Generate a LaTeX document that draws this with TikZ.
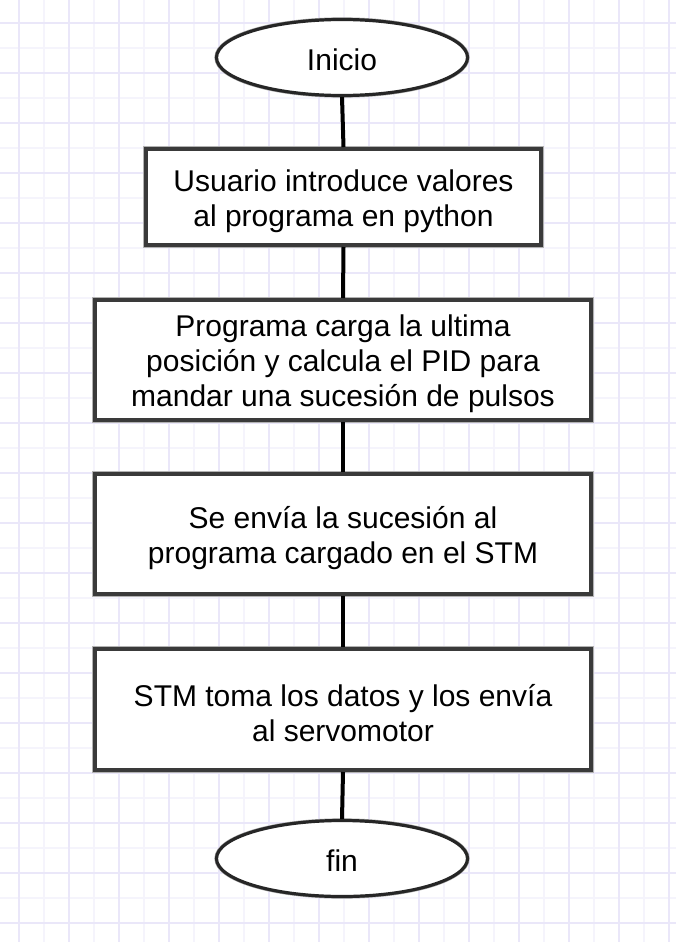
\documentclass[tikz,border=0pt]{standalone}
\usepackage{fontspec}
\setmainfont{Liberation Sans}
\usetikzlibrary{shapes.geometric}
\definecolor{gridminor}{HTML}{F5F4FC}
\definecolor{gridmajor}{HTML}{EAE7F9}
\definecolor{boxedge}{HTML}{3A3A3A}
\newcommand{\liftline}{\rule{0pt}{22pt}}
\begin{document}
\begin{tikzpicture}[x=0.75pt,y=-0.75pt,
  txt/.style={font=\fontsize{22.5}{26.3}\selectfont, align=center, text=black},
  procbox/.style={txt, rectangle, fill=white, draw=boxedge, line width=3pt,
    preaction={draw=black!30, line width=4.2pt}, inner sep=0pt},
  termnode/.style={txt, ellipse, fill=white, draw=black!85, line width=2.4pt,
    preaction={draw=black!35, line width=3.2pt}, inner sep=0pt,
    minimum width=251*0.75pt, minimum height=76*0.75pt,
    execute at begin node={\rule{0pt}{19.2pt}}},
  flow/.style={draw=black, line width=3pt}]
  % background and grid
  \fill[white] (0,0) rectangle (676,942);
  \useasboundingbox (0,0) rectangle (676,942);
  \foreach \x in {44,94,...,669} \draw[gridminor, line width=0.9pt] (\x,0) -- (\x,942);
  \foreach \y in {48,98,...,923} \draw[gridminor, line width=0.9pt] (0,\y) -- (676,\y);
  \foreach \x in {19,69,...,669} \draw[gridmajor, line width=0.9pt] (\x,0) -- (\x,942);
  \foreach \y in {23,73,...,923} \draw[gridmajor, line width=0.9pt] (0,\y) -- (676,\y);
  % nodes
  \node[termnode] (start) at (342,57.5) {Inicio};
  \node[procbox, minimum width=395*0.75pt, minimum height=96*0.75pt] (b1) at (343.5,197)
    {\liftline Usuario introduce valores\\al programa en python};
  \node[procbox, minimum width=496*0.75pt, minimum height=120*0.75pt] (b2) at (343,360)
    {\liftline Programa carga la ultima\\posición y calcula el PID para\\mandar una sucesión de pulsos};
  \node[procbox, minimum width=496*0.75pt, minimum height=120*0.75pt] (b3) at (343,534)
    {\liftline Se envía la sucesión al\\programa cargado en el STM};
  \node[procbox, minimum width=496*0.75pt, minimum height=121*0.75pt] (b4) at (343,709.5)
    {\liftline STM toma los datos y los envía\\al servomotor};
  \node[termnode] (end) at (342,858.5) {fin};
  % connectors
  \draw[flow] (start.south) -- (b1.north);
  \draw[flow] (b1.south) -- (b2.north);
  \draw[flow] (b2.south) -- (b3.north);
  \draw[flow] (b3.south) -- (b4.north);
  \draw[flow] (b4.south) -- (end.north);
\end{tikzpicture}
\end{document}
